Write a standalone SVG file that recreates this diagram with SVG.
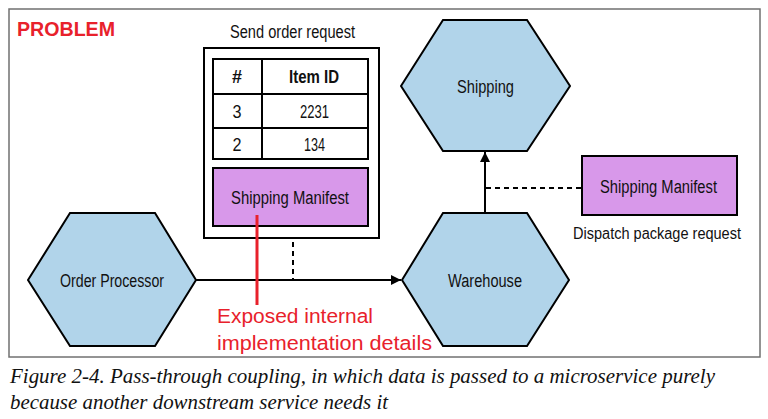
<svg xmlns="http://www.w3.org/2000/svg" width="768" height="419" viewBox="0 0 768 419">
<defs>
<marker id="arr" viewBox="0 0 10 10" refX="10" refY="5" markerWidth="5" markerHeight="5" orient="auto" markerUnits="strokeWidth">
<path d="M0,0 L10,5 L0,10 z" fill="#000"/>
</marker>
<style>
.hex{fill:#b1d4ea;stroke:#000;stroke-width:2;stroke-linejoin:miter}
.purple{fill:#d898ea;stroke:#000;stroke-width:2}
.t{font-family:"Liberation Sans",Arial,sans-serif;font-size:18px;fill:#111;text-anchor:middle}
.b{font-weight:bold}
.red{font-family:"Liberation Sans",Arial,sans-serif;font-size:20px;fill:#e8212b}
.cap{font-family:"Liberation Serif","Times New Roman",serif;font-style:italic;font-size:20px;fill:#111}
.ln{stroke:#000;stroke-width:2;fill:none}
.dash{stroke:#000;stroke-width:2;fill:none;stroke-dasharray:5 4}
</style>
</defs>
<rect width="768" height="419" fill="#fff"/>
<rect x="9" y="9" width="751" height="348" fill="none" stroke="#707070" stroke-width="1.5"/>
<text x="17" y="35.5" font-family="Liberation Sans,Arial,sans-serif" font-weight="bold" font-size="20" fill="#e8212b" textLength="98" lengthAdjust="spacingAndGlyphs">PROBLEM</text>

<g id="send-order-request">
<text class="t" x="292.5" y="38" textLength="125" lengthAdjust="spacingAndGlyphs">Send order request</text>
<rect x="204" y="48" width="175" height="190" fill="#fff" stroke="#000" stroke-width="2"/>
<rect x="213" y="59" width="155" height="100" fill="#fff" stroke="#000" stroke-width="2"/>
<line x1="213" y1="94" x2="368" y2="94" class="ln"/>
<line x1="213" y1="128" x2="368" y2="128" class="ln"/>
<line x1="262" y1="59" x2="262" y2="159" class="ln"/>
<text class="t b" x="237" y="83">#</text>
<text class="t b" x="314" y="83" textLength="50" lengthAdjust="spacingAndGlyphs">Item ID</text>
<text class="t" x="237" y="118" textLength="9" lengthAdjust="spacingAndGlyphs">3</text>
<text class="t" x="314.5" y="118" textLength="29" lengthAdjust="spacingAndGlyphs">2231</text>
<text class="t" x="237" y="151" textLength="9" lengthAdjust="spacingAndGlyphs">2</text>
<text class="t" x="314.5" y="151" textLength="21" lengthAdjust="spacingAndGlyphs">134</text>
<rect x="213" y="168" width="155" height="58" class="purple"/>
<text class="t" x="290" y="204" textLength="118" lengthAdjust="spacingAndGlyphs">Shipping Manifest</text>
</g>

<g id="order-processor">
<polygon class="hex" points="28,280 70,213 155,213 196,280 155,346 70,346"/>
<text class="t" x="112" y="287" textLength="104" lengthAdjust="spacingAndGlyphs">Order Processor</text>
</g>

<g id="warehouse">
<polygon class="hex" points="402,280 443,213 527,213 569,280 527,346 443,346"/>
<text class="t" x="485" y="287" textLength="74" lengthAdjust="spacingAndGlyphs">Warehouse</text>
</g>

<g id="shipping">
<polygon class="hex" points="401,86 443,20 527,20 570,86 527,151 443,151"/>
<text class="t" x="485.5" y="93" textLength="57" lengthAdjust="spacingAndGlyphs">Shipping</text>
</g>

<g id="dispatch-package-request">
<rect x="582" y="156" width="155" height="59" class="purple"/>
<text class="t" x="658.5" y="193" textLength="117" lengthAdjust="spacingAndGlyphs">Shipping Manifest</text>
<text class="t" x="657" y="239" font-size="16" style="font-size:16px" textLength="168" lengthAdjust="spacingAndGlyphs">Dispatch package request</text>
</g>

<g id="connectors">
<line x1="196" y1="280" x2="401" y2="280" class="ln" marker-end="url(#arr)"/>
<line x1="293" y1="242" x2="293" y2="279" class="dash"/>
<line x1="485" y1="213" x2="485" y2="152" class="ln" marker-end="url(#arr)"/>
<line x1="486" y1="188" x2="582" y2="188" class="dash"/>
<line x1="257" y1="215" x2="257" y2="305" stroke="#e8212b" stroke-width="3"/>
</g>

<g id="annotation">
<text class="red" x="217" y="323" textLength="156" lengthAdjust="spacingAndGlyphs">Exposed internal</text>
<text class="red" x="217" y="350" textLength="215" lengthAdjust="spacingAndGlyphs">implementation details</text>
</g>

<text class="cap" x="10" y="383" textLength="705" lengthAdjust="spacingAndGlyphs">Figure 2-4. Pass-through coupling, in which data is passed to a microservice purely</text>
<text class="cap" x="10" y="409" textLength="378" lengthAdjust="spacingAndGlyphs">because another downstream service needs it</text>
</svg>
